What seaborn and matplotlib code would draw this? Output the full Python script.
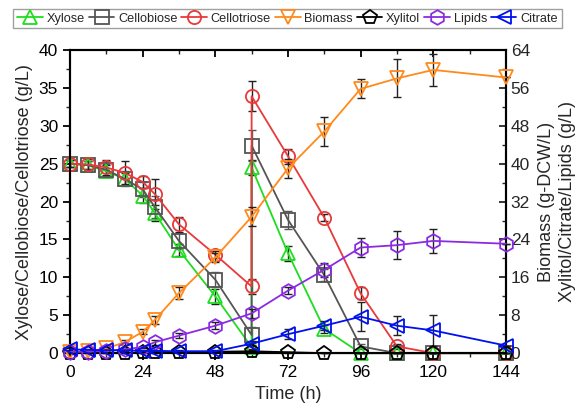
import matplotlib
matplotlib.use("Agg")
import matplotlib.pyplot as plt
import seaborn as sns
import pandas as pd
import numpy as np
from matplotlib.ticker import MultipleLocator

sns.set_style("ticks")
plt.rcParams['font.family'] = ['Liberation Sans', 'DejaVu Sans']

# ---- data ----
time_l = [0, 6, 12, 18, 24, 28, 36, 48, 60, 60, 72, 84, 96, 108, 120, 144]
xylose = [25.0, 24.8, 24.0, 23.0, 20.8, 18.5, 13.6, 7.5, 0.8, 24.5, 13.2, 3.2, 0.0, 0.0, 0.0, 0.0]
xylose_err = [0.5, 0.5, 0.8, 0.8, 1.0, 1.0, 0.8, 1.0, 0.3, 1.0, 1.0, 0.5, 0.0, 0.0, 0.0, 0.0]
cellobiose = [25.0, 24.8, 24.2, 23.0, 21.6, 19.3, 14.8, 9.7, 2.4, 27.4, 17.6, 10.3, 0.9, 0.0, 0.0, 0.0]
cellobiose_err = [0.5, 0.5, 0.8, 1.0, 1.0, 1.5, 1.0, 1.0, 1.0, 2.0, 1.2, 0.8, 0.3, 0.0, 0.0, 0.0]
cellotriose = [25.0, 24.9, 24.5, 23.8, 22.6, 21.0, 17.0, 13.0, 8.8, 33.9, 26.0, 17.9, 7.9, 0.9, 0.0, 0.0]
cellotriose_err = [0.5, 0.7, 1.0, 1.5, 0.8, 2.0, 1.0, 0.5, 1.0, 2.0, 1.0, 0.5, 0.8, 0.3, 0.0, 0.0]

time_r = [0, 6, 12, 18, 24, 28, 36, 48, 60, 72, 84, 96, 108, 120, 144]
biomass = [0.2, 0.4, 1.0, 2.3, 4.5, 7.0, 12.7, 20.2, 28.8, 39.0, 46.8, 55.8, 58.0, 59.8, 58.2]
biomass_err = [0.2, 0.2, 0.3, 0.5, 0.5, 0.8, 1.2, 1.0, 2.0, 2.0, 3.0, 2.0, 4.0, 3.3, 0.0]
xylitol = [0.0, 0.0, 0.0, 0.0, 0.2, 0.2, 0.3, 0.3, 0.4, 0.2, 0.0, 0.0, 0.0, 0.0, 0.0]
xylitol_err = [0.0, 0.0, 0.0, 0.0, 0.1, 0.1, 0.1, 0.1, 0.2, 0.1, 0.0, 0.0, 0.0, 0.0, 0.0]
lipids = [0.3, 0.3, 0.5, 0.8, 1.3, 2.3, 3.7, 5.8, 8.4, 13.2, 17.6, 22.3, 22.8, 23.7, 23.1]
lipids_err = [0.1, 0.1, 0.2, 0.2, 0.3, 0.5, 0.5, 0.8, 1.0, 0.7, 1.5, 2.0, 3.0, 2.5, 0.0]
citrate = [0.8, 0.7, 0.6, 0.6, 0.5, 0.5, 0.4, 0.4, 2.0, 4.0, 5.8, 7.7, 5.8, 4.8, 1.6]
citrate_err = [0.2, 0.2, 0.2, 0.2, 0.2, 0.2, 0.2, 0.2, 0.5, 1.0, 1.0, 3.0, 2.0, 3.2, 0.0]

left_series = [
    ("Xylose", xylose, xylose_err, "#1FDD1F", "^", "#222222"),
    ("Cellobiose", cellobiose, cellobiose_err, "#555555", "s", "#555555"),
    ("Cellotriose", cellotriose, cellotriose_err, "#E8393B", "o", "#222222"),
]
right_series = [
    ("Biomass", biomass, biomass_err, "#FF8A1C", "v", "#222222"),
    ("Xylitol", xylitol, xylitol_err, "#000000", "p", "#222222"),
    ("Lipids", lipids, lipids_err, "#8A2BE2", "h", "#222222"),
    ("Citrate", citrate, citrate_err, "#0010F0", "<", "#222222"),
]

fig = plt.figure(figsize=(5.85, 4.15), dpi=100)
ax = fig.add_axes([0.1197, 0.149, 0.745, 0.7305])
ax2 = ax.twinx()

def draw(axis, t, name, vals, err, color, marker, ecol):
    axis.errorbar(t, vals, yerr=err, fmt='none', ecolor=ecol, elinewidth=1.0,
                  capsize=3, capthick=1.0, zorder=2, clip_on=False)
    df = pd.DataFrame({"t": t, "v": vals})
    sns.lineplot(data=df, x="t", y="v", ax=axis, sort=False, estimator=None,
                 color=color, marker=marker, markersize=9.5 if marker not in ("h", "p") else 10.5,
                 markerfacecolor='none', markeredgecolor=color, markeredgewidth=1.3,
                 linewidth=1.3, label=name, clip_on=False, zorder=3)

for name, vals, err, color, marker, ecol in left_series:
    draw(ax, time_l, name, vals, err, color, marker, ecol)
for name, vals, err, color, marker, ecol in right_series:
    draw(ax2, time_r, name, vals, err, color, marker, ecol)

h1, l1 = ax.get_legend_handles_labels()
h2, l2 = ax2.get_legend_handles_labels()
for a in (ax, ax2):
    if a.get_legend() is not None:
        a.get_legend().remove()

leg = fig.legend(h1 + h2, l1 + l2, loc='upper center', bbox_to_anchor=(0.4915, 0.985),
                 ncol=7, frameon=True, fancybox=False, fontsize=9.2,
                 handlelength=2.0, handletextpad=0.3, columnspacing=0.3,
                 borderpad=0.3, borderaxespad=0.2)
leg.get_frame().set_edgecolor('#888888')
leg.get_frame().set_linewidth(1.0)

ax.set_xlim(0, 144)
ax.set_ylim(0, 40)
ax2.set_ylim(0, 64)
ax.xaxis.set_major_locator(MultipleLocator(24))
ax.xaxis.set_minor_locator(MultipleLocator(12))
ax.yaxis.set_major_locator(MultipleLocator(5))
ax.yaxis.set_minor_locator(MultipleLocator(2.5))
ax2.yaxis.set_major_locator(MultipleLocator(8))
ax2.yaxis.set_minor_locator(MultipleLocator(4))

for a in (ax, ax2):
    for s in a.spines.values():
        s.set_visible(True)
        s.set_linewidth(1.5)
        s.set_color('black')

ax.tick_params(axis='both', which='major', labelsize=12.5, length=5, width=1.3,
               direction='out', colors='black')
ax.tick_params(axis='both', which='minor', length=3, width=1.0, direction='out')
ax.tick_params(axis='x', which='both', top=True)
ax2.tick_params(axis='y', which='major', labelsize=12.5, length=5, width=1.3, direction='in')
ax2.tick_params(axis='y', which='minor', length=3, width=1.0, direction='in')
for tick in ax.xaxis.get_major_ticks():
    tick.tick2line.set_marker(matplotlib.lines.TICKDOWN)
for tick in ax.xaxis.get_minor_ticks():
    tick.tick2line.set_marker(matplotlib.lines.TICKDOWN)

ax.set_xlabel("Time (h)", fontsize=13, labelpad=4)
ax.set_ylabel("Xylose/Cellobiose/Cellotriose (g/L)", fontsize=13, labelpad=4)
ax2.set_ylabel("Biomass (g-DCW/L)\nXylitol/Citrate/Lipids (g/L)", fontsize=13,
               labelpad=6, rotation=90, linespacing=1.3)

fig.savefig("out.png", dpi=100)
